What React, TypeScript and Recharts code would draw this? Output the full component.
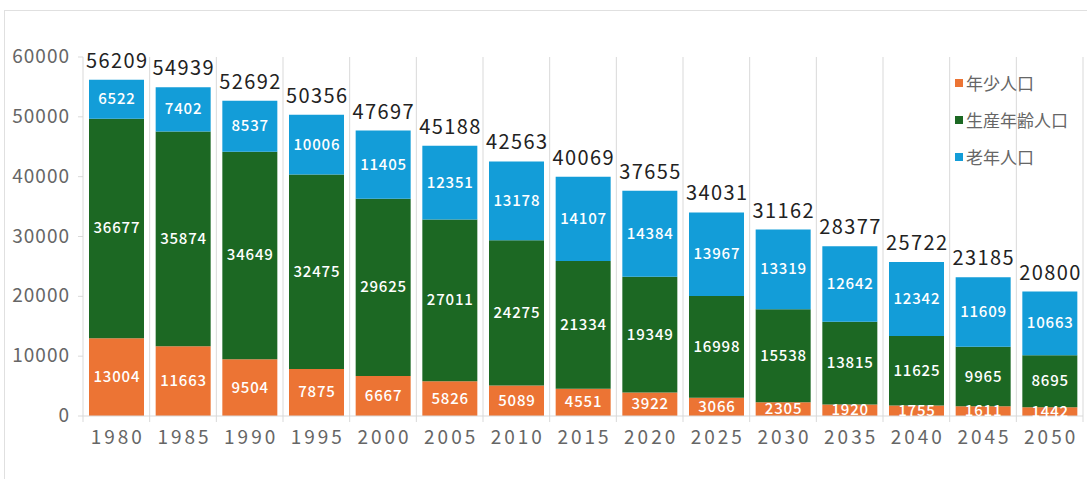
import React from "react";
import { BarChart, Bar, XAxis, YAxis, CartesianGrid, LabelList } from "recharts";

const YEARS = ["1980", "1985", "1990", "1995", "2000", "2005", "2010", "2015", "2020", "2025", "2030", "2035", "2040", "2045", "2050"];
const YOUNG = [13004, 11663, 9504, 7875, 6667, 5826, 5089, 4551, 3922, 3066, 2305, 1920, 1755, 1611, 1442];
const WORKING = [36677, 35874, 34649, 32475, 29625, 27011, 24275, 21334, 19349, 16998, 15538, 13815, 11625, 9965, 8695];
const OLD = [6522, 7402, 8537, 10006, 11405, 12351, 13178, 14107, 14384, 13967, 13319, 12642, 12342, 11609, 10663];
const TOTAL = [56209, 54939, 52692, 50356, 47697, 45188, 42563, 40069, 37655, 34031, 31162, 28377, 25722, 23185, 20800];
const Y_TICKS = [0, 10000, 20000, 30000, 40000, 50000, 60000];

const SERIES = [
  { key: "young", name: "年少人口", values: YOUNG, color: "#ec7434" },
  { key: "working", name: "生産年齢人口", values: WORKING, color: "#1c6823" },
  { key: "old", name: "老年人口", values: OLD, color: "#139dd8" },
];

const data = YEARS.map((year, i) => ({
  year,
  young: YOUNG[i],
  working: WORKING[i],
  old: OLD[i],
}));

const W = 1087;
const H = 479;
const Y_W = 83;
const M = { top: 57, right: 4, left: 0, bottom: 33 };
const HALF = (W - Y_W - M.right) / YEARS.length / 2;
const FONT = "'Noto Sans CJK JP', 'Noto Sans', sans-serif";
const GRID = "#d9d9d9";

const inside = (values: number[]) => (p: any) => {
  const { x, y, width, height, index } = p;
  return (
    <text x={x + width / 2} dx={0.4} y={y + height / 2} dy={5} textAnchor="middle"
      fill="#fff" fontSize={15} fontWeight={500} fontFamily={FONT} letterSpacing={0.8}>
      {values[index]}
    </text>
  );
};

const totalLabel = (p: any) => {
  const { x, y, width, index } = p;
  return (
    <text x={x + width / 2} dx={0.7} y={y - 12} textAnchor="middle" fill="#222"
      fontSize={20} fontFamily={FONT} letterSpacing={1.4}>
      {TOTAL[index]}
    </text>
  );
};

const XTick = (p: any) => {
  const { x, y, payload, index } = p;
  const last = index === YEARS.length - 1;
  return (
    <g>
      <line x1={x - HALF} y1={y} x2={x - HALF} y2={y + 6} stroke={GRID} />
      {last && <line x1={x + HALF} y1={y} x2={x + HALF} y2={y + 6} stroke={GRID} />}
      <text x={x} dx={1.5} y={y + 28} textAnchor="middle" fill="#666"
        fontSize={19} fontFamily={FONT} letterSpacing={3}>
        {payload.value}
      </text>
    </g>
  );
};

const YTick = (p: any) => {
  const { x, y, payload } = p;
  return (
    <text x={x} y={y} dy={6} textAnchor="end" fill="#666" fontSize={19}
      fontFamily={FONT} letterSpacing={1}>
      {payload.value}
    </text>
  );
};

export default function App() {
  return (
    <div style={{ position: "fixed", left: 0, top: 0, width: W, height: H, background: "#fff" }}>
      <div style={{ position: "absolute", left: 4, top: 10, right: -2, bottom: -2, border: "1px solid #e0e0e0" }} />
      <BarChart width={W} height={H} data={data} margin={M} barCategoryGap="9%">
        <CartesianGrid horizontal={false} stroke={GRID}
          verticalCoordinatesGenerator={({ offset }: any) =>
            YEARS.map((_, i) => offset.left + ((i + 1) * offset.width) / YEARS.length)} />
        <XAxis dataKey="year" height={30} tickSize={0} tickMargin={0} interval={0}
          axisLine={{ stroke: GRID }} tick={<XTick />} />
        <YAxis width={Y_W} domain={[0, 60000]} ticks={Y_TICKS} interval={0}
          axisLine={{ stroke: GRID }} tickLine={{ stroke: GRID }} tickSize={5} tickMargin={8}
          tick={<YTick />} />
        {SERIES.map((s) => (
          <Bar key={s.key} dataKey={s.key} name={s.name} stackId="a" fill={s.color} isAnimationActive={false}>
            <LabelList content={inside(s.values)} />
            {s.key === "old" && <LabelList content={totalLabel} />}
          </Bar>
        ))}
      </BarChart>
      <div style={{ position: "absolute", left: 955, top: 64, fontFamily: FONT, fontSize: 17, color: "#666" }}>
        {SERIES.map((s) => (
          <div key={s.key} style={{ display: "flex", alignItems: "center", height: 37 }}>
            <span style={{ width: 8, height: 8, background: s.color, marginRight: 3 }} />
            <span>{s.name}</span>
          </div>
        ))}
      </div>
    </div>
  );
}
